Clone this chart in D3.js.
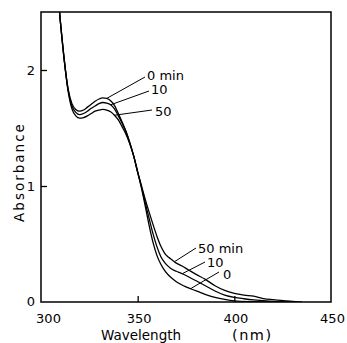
<!DOCTYPE html>
<html><head><meta charset="utf-8">
<script src="https://cdn.jsdelivr.net/npm/d3@7"></script>
<style>
html,body{margin:0;padding:0;background:#fff;}
text{font-family:"DejaVu Sans",sans-serif;fill:#000;}
</style></head>
<body><svg id="c" width="347" height="343"></svg>
<script>
// Data
const wavelengths0 = [307,310,312,314,316,318,320,322,324,326,328,330,332,334,336,338,340,342,344,346,348,350,352,354,356,358,360,362,364,366,368,370,372,375,378,382,386,390,395,400,410,420];
const abs0min      = [3.0,2.42,2.09,1.84,1.71,1.66,1.645,1.655,1.68,1.705,1.73,1.75,1.76,1.755,1.735,1.695,1.625,1.55,1.47,1.37,1.255,1.12,0.98,0.82,0.655,0.51,0.40,0.325,0.27,0.23,0.20,0.175,0.155,0.13,0.11,0.085,0.06,0.04,0.022,0.01,0.003,0];
const wavelengths10 = [307,310,312,314,316,318,320,322,324,326,328,330,332,334,336,338,340,342,344,346,348,350,352,354,356,358,360,362,364,366,368,370,373,376,380,385,390,395,400,405,410,420,430];
const abs10min      = [3.0,2.42,2.09,1.83,1.69,1.635,1.615,1.625,1.645,1.67,1.69,1.71,1.72,1.715,1.70,1.665,1.605,1.54,1.465,1.37,1.255,1.12,0.99,0.85,0.715,0.585,0.475,0.39,0.34,0.305,0.28,0.265,0.245,0.22,0.185,0.14,0.095,0.06,0.04,0.028,0.018,0.005,0];
const wavelengths50 = [307,310,312,314,316,318,320,322,324,326,328,330,332,334,336,338,340,342,344,346,348,350,352,354,356,358,360,362,364,366,368,370,373,376,380,385,390,395,400,405,410,415,420,427,435];
const abs50min      = [3.0,2.42,2.09,1.82,1.665,1.605,1.585,1.59,1.605,1.625,1.645,1.655,1.66,1.655,1.64,1.61,1.57,1.51,1.445,1.36,1.255,1.12,1.0,0.88,0.77,0.665,0.565,0.48,0.42,0.385,0.36,0.335,0.31,0.28,0.24,0.195,0.14,0.10,0.075,0.06,0.05,0.03,0.02,0.01,0];
const xTicks = [300,350,400,450];
const yTicks = [0,1,2];

const svg = d3.select("#c");
const x = d3.scaleLinear().domain([300,450]).range([41,331]);
const y = d3.scaleLinear().domain([0,2.5]).range([302,12]);

svg.append("defs").append("clipPath").attr("id","clip")
  .append("rect").attr("x",41).attr("y",12).attr("width",290).attr("height",290);

const line = d3.line().x(d=>x(d[0])).y(d=>y(d[1])).curve(d3.curveMonotoneX);
const series = [[wavelengths0,abs0min],[wavelengths10,abs10min],[wavelengths50,abs50min]];
const g = svg.append("g").attr("clip-path","url(#clip)");
series.forEach(([w,a])=>{
  g.append("path").datum(w.map((v,i)=>[v,a[i]]))
   .attr("d",line).attr("fill","none").attr("stroke","#000").attr("stroke-width",1.3);
});

// frame
svg.append("rect").attr("x",41).attr("y",12).attr("width",290).attr("height",290)
  .attr("fill","none").attr("stroke","#000").attr("stroke-width",1.5);

// axes with inward ticks
const xAxis = d3.axisBottom(x).tickValues(xTicks).tickSizeInner(-6).tickSizeOuter(0).tickPadding(14).tickFormat(d3.format("d"));
const gx = svg.append("g").attr("transform","translate(0,302)").call(xAxis);
gx.select(".domain").remove();
gx.selectAll(".tick line").attr("stroke-width",1.3).filter(d=>d===300||d===450).remove();
gx.selectAll("text").attr("font-size",13).attr("font-family","DejaVu Sans").attr("dy",null).attr("y",21)
  .attr("dx",d=>d===300?7:1);

const yAxis = d3.axisLeft(y).tickValues(yTicks).tickSizeInner(-6).tickSizeOuter(0).tickPadding(6).tickFormat(d3.format("d"));
const gy = svg.append("g").attr("transform","translate(41,0)").call(yAxis);
gy.select(".domain").remove();
gy.selectAll(".tick line").attr("stroke-width",1.3).filter(d=>d===0).remove();
gy.selectAll("text").attr("font-size",13).attr("font-family","DejaVu Sans")
  .attr("x",-6).attr("dy",d=>d===0?"0.25em":"0.36em");

// axis titles
svg.append("text").attr("transform","translate(24,172) rotate(-90)")
  .attr("text-anchor","middle").attr("font-size",13.5).attr("letter-spacing",2).text("Absorbance");
svg.append("text").attr("x",101).attr("y",340).attr("font-size",13.5).text("Wavelength");
svg.append("text").attr("x",232).attr("y",340).attr("font-size",14.5).attr("letter-spacing",1.5).text("(nm)");

// curve labels with leader lines
const labels = [
  {t:"0 min", lx:147, ly:80, x1:334, y1:1.755, x2:145, y2:77},
  {t:"10", lx:151, ly:94, x1:336, y1:1.70, x2:149, y2:91},
  {t:"50", lx:155, ly:116, x1:338, y1:1.61, x2:152, y2:110},
  {t:"50 min", lx:198, ly:253, x1:369, y1:0.347, x2:196, y2:248},
  {t:"10", lx:207, ly:267, x1:373.4, y1:0.247, x2:205, y2:262},
  {t:"0", lx:223, ly:279, x1:377.7, y1:0.118, x2:219, y2:272}
];
labels.forEach(l=>{
  svg.append("line").attr("x1",x(l.x1)).attr("y1",y(l.y1)).attr("x2",l.x2).attr("y2",l.y2)
    .attr("stroke","#000").attr("stroke-width",1);
  svg.append("text").attr("x",l.lx).attr("y",l.ly).attr("font-size",13).text(l.t);
});
</script></body></html>
